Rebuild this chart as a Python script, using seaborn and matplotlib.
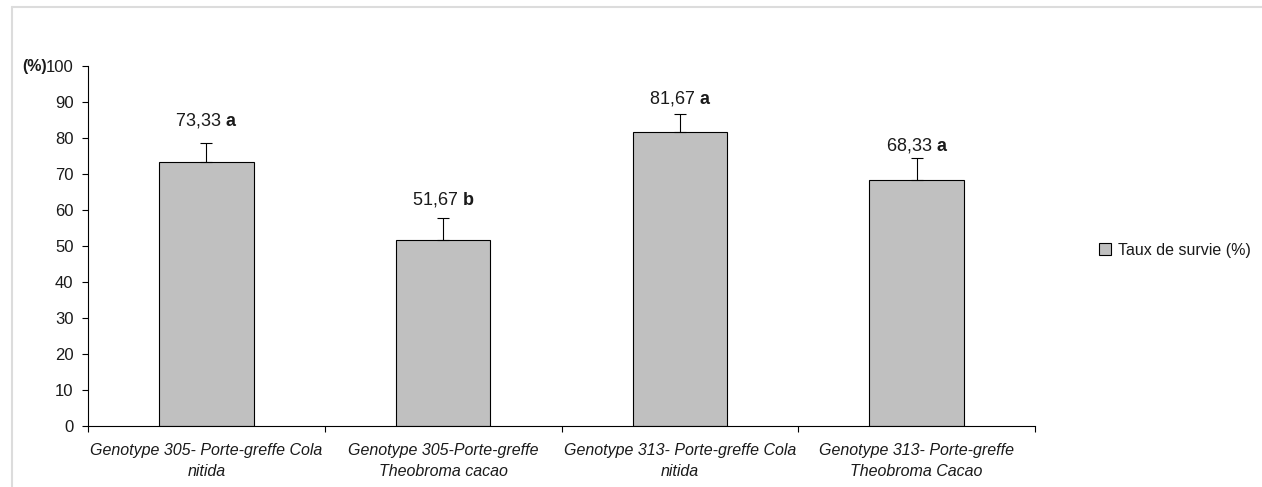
import matplotlib
matplotlib.use("Agg")
import matplotlib.pyplot as plt
import seaborn as sns
import pandas as pd
from matplotlib.lines import Line2D
from matplotlib.patches import Patch

categories = [
    "Genotype 305- Porte-greffe Cola\nnitida",
    "Genotype 305-Porte-greffe\nTheobroma cacao",
    "Genotype 313- Porte-greffe Cola\nnitida",
    "Genotype 313- Porte-greffe\nTheobroma Cacao",
]
survival = [73.33, 51.67, 81.67, 68.33]
errors = [5.4, 6.2, 4.9, 6.0]
value_labels = ["73,33", "51,67", "81,67", "68,33"]
letters = ["a", "b", "a", "a"]
yticks = [0, 10, 20, 30, 40, 50, 60, 70, 80, 90, 100]
series_name = "Taux de survie (%)"

sns.set_theme(style="white")
plt.rcParams["font.family"] = ["Liberation Sans", "DejaVu Sans"]
plt.rcParams["mathtext.fontset"] = "custom"
plt.rcParams["mathtext.rm"] = "Liberation Sans"
plt.rcParams["mathtext.bf"] = "Liberation Sans:bold"

W, H = 1262, 487
fig = plt.figure(figsize=(W / 100, H / 100), dpi=100)
ax = fig.add_axes([88 / W, 61 / H, (1035 - 88) / W, (426 - 66) / H])

df = pd.DataFrame({"cat": categories, "val": survival})
sns.barplot(data=df, x="cat", y="val", color="#c0c0c0", saturation=1,
            width=0.4, edgecolor="black", linewidth=0.8, errorbar=None, ax=ax)

xs = list(range(len(categories)))
ax.errorbar(xs, survival, yerr=[[0] * len(errors), errors], fmt="none",
            ecolor="black", elinewidth=0.8, capsize=4, capthick=0.8)

# vertical placement of the value labels (as placed in the original chart)
label_y = [85.0, 62.8, 91.1, 78.0]
for x, ly, lab, let in zip(xs, label_y, value_labels, letters):
    ax.text(x, ly, f"{lab} $\\mathbf{{{let}}}$", ha="center", va="center",
            fontsize=13, color="#1a1a1a")

ax.set_xlim(-0.5, 3.5)
ax.set_ylim(0, 100)
ax.set_yticks(yticks)
ax.set_yticklabels([str(t) for t in yticks], fontsize=12, color="#1a1a1a")
ax.set_xticks([-0.5, 0.5, 1.5, 2.5, 3.5])
ax.set_xticklabels([])
ax.set_xticks(xs, minor=True)
ax.set_xticklabels(categories, minor=True, fontsize=11.5, style="italic",
                   color="#1a1a1a", linespacing=1.45)
ax.tick_params(axis="x", which="minor", length=0, pad=12.5)
ax.tick_params(axis="x", which="major", direction="out", length=4.5,
               width=0.8, color="black", bottom=True)
ax.tick_params(axis="y", direction="out", length=4.5, width=0.8,
               color="black", left=True, pad=6)
ax.set_xlabel("")
ax.set_ylabel("")
sns.despine(ax=ax)
for s in ["left", "bottom"]:
    ax.spines[s].set_color("black")
    ax.spines[s].set_linewidth(0.8)

fig.text(47 / W, (H - 66) / H, "(%)", fontsize=11.5, fontweight="bold",
         ha="right", va="center", color="#1a1a1a")

handle = Patch(facecolor="#c0c0c0", edgecolor="black", linewidth=0.8)
fig.legend([handle], [series_name], loc="center left",
           bbox_to_anchor=(1085 / W, (H - 250) / H), frameon=False,
           fontsize=11.5, handlelength=0.75, handleheight=0.75,
           handletextpad=0.4, labelcolor="#1a1a1a")

# outer chart frame (grey)
fig.add_artist(Line2D([12 / W, 1.0], [(H - 7) / H] * 2, color="#dcdcdc",
                      linewidth=1.5, transform=fig.transFigure))
fig.add_artist(Line2D([12 / W] * 2, [0, (H - 7) / H], color="#dcdcdc",
                      linewidth=1.5, transform=fig.transFigure))

fig.savefig("out.png", dpi=100)
